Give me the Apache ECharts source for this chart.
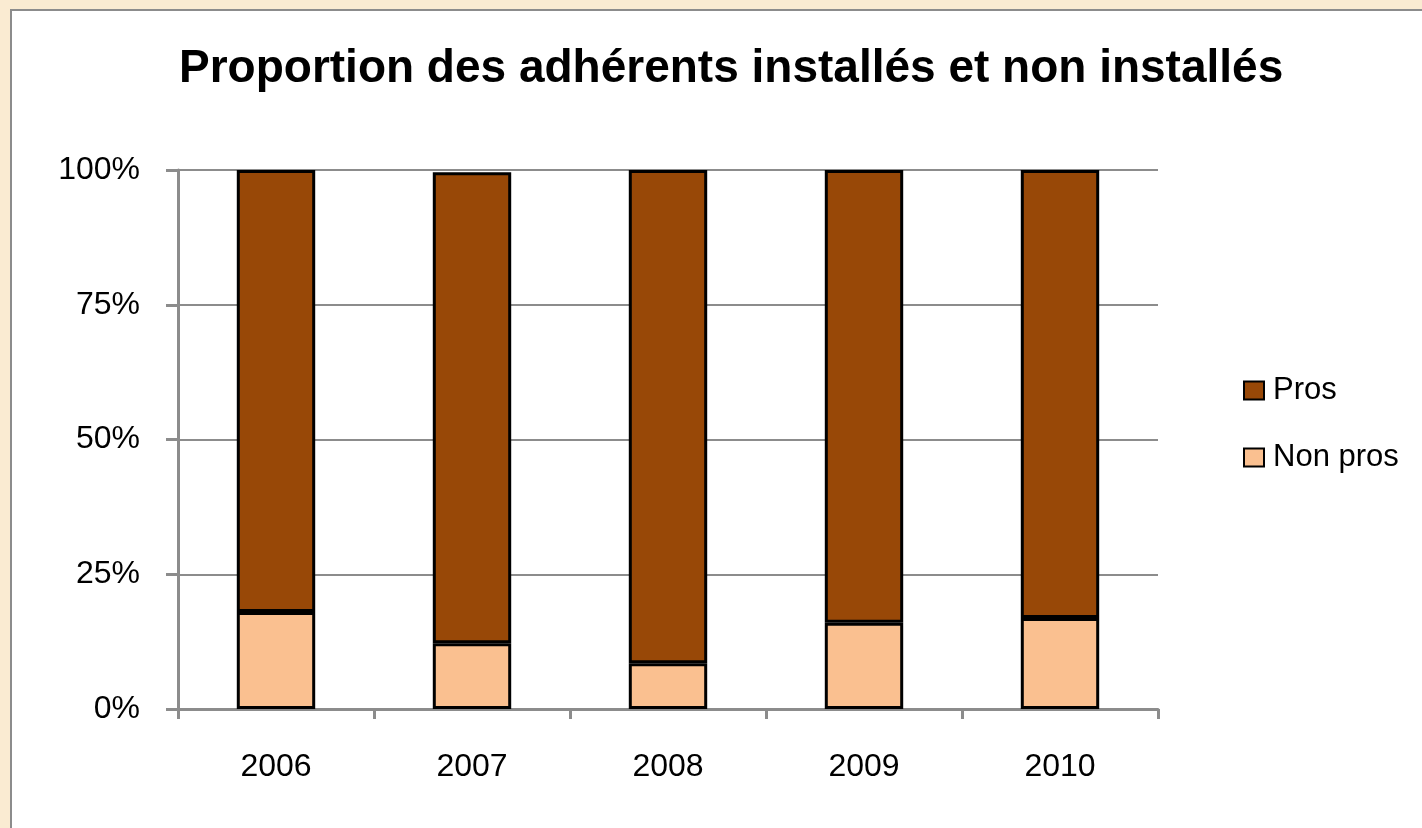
<!DOCTYPE html>
<html>
<head>
    <meta charset="utf-8">
    <title>ECharts</title>
    <style>
        html, body { margin: 0; padding: 0; }
        body { width: 1422px; height: 828px; background: #faebd2; position: relative; overflow: hidden; }
        #frame { position: absolute; left: 10px; top: 9px; width: 1500px; height: 900px; background: #fff; border: 2px solid #8c8c8c; }
        #main { position: absolute; left: 0; top: 0; width: 1422px; height: 828px; }
    </style>
</head>
<body>
<div id="frame"></div>
<div id="main"></div>
<script src="https://cdn.jsdelivr.net/npm/echarts@6/dist/echarts.min.js"></script>
<script type="text/javascript">
    // données (en %)
    var annees = ['2006', '2007', '2008', '2009', '2010'];
    var nonPros = [18.0, 12.2, 8.5, 16.0, 16.9];
    var pros = [82.0, 87.4, 91.5, 84.0, 83.1];
    var yTicks = [0, 25, 50, 75, 100];

    var police = '"Liberation Sans", Arial, sans-serif';
    var myChart = echarts.init(document.getElementById('main'));

    myChart.setOption({
        backgroundColor: 'transparent',
        textStyle: { fontFamily: police },
        title: {
            text: 'Proportion des adhérents installés et non installés',
            left: 174,
            top: 41,
            textStyle: { fontSize: 46, fontWeight: 'bold', color: '#000', fontFamily: police }
        },
        legend: {
            data: ['Pros', 'Non pros'],
            orient: 'vertical',
            left: 1238,
            top: 370,
            itemWidth: 20,
            itemHeight: 18,
            itemGap: 36,
            icon: 'rect',
            textStyle: { fontSize: 31, color: '#000', fontFamily: police, padding: [0, 0, 0, 4] },
            itemStyle: { borderColor: '#000', borderWidth: 2 }
        },
        grid: { left: 178, right: 264, top: 170, bottom: 119 },
        xAxis: {
            type: 'category',
            data: annees,
            axisLine: { lineStyle: { color: '#8c8c8c', width: 3 } },
            axisTick: { show: true, length: 10, lineStyle: { color: '#8c8c8c', width: 3 } },
            axisLabel: { color: '#000', fontSize: 32, margin: 42, fontFamily: police }
        },
        yAxis: {
            type: 'value',
            min: 0,
            max: 100,
            interval: 25,
            axisLine: { show: true, lineStyle: { color: '#8c8c8c', width: 3 } },
            axisTick: { show: true, length: 12, lineStyle: { color: '#8c8c8c', width: 3 } },
            splitLine: { lineStyle: { color: '#8c8c8c', width: 2 } },
            axisLabel: {
                color: '#000', fontSize: 32, margin: 38, fontFamily: police,
                formatter: function (v) { return yTicks.indexOf(v) >= 0 ? v + '%' : ''; }
            }
        },
        series: [
            {
                name: 'Non pros',
                type: 'bar',
                stack: 'total',
                barWidth: '40%',
                data: nonPros,
                itemStyle: { color: '#fac090', borderColor: '#000', borderWidth: 3 }
            },
            {
                name: 'Pros',
                type: 'bar',
                stack: 'total',
                barWidth: '40%',
                data: pros,
                itemStyle: { color: '#984807', borderColor: '#000', borderWidth: 3 }
            }
        ]
    });
</script>
</body>
</html>
